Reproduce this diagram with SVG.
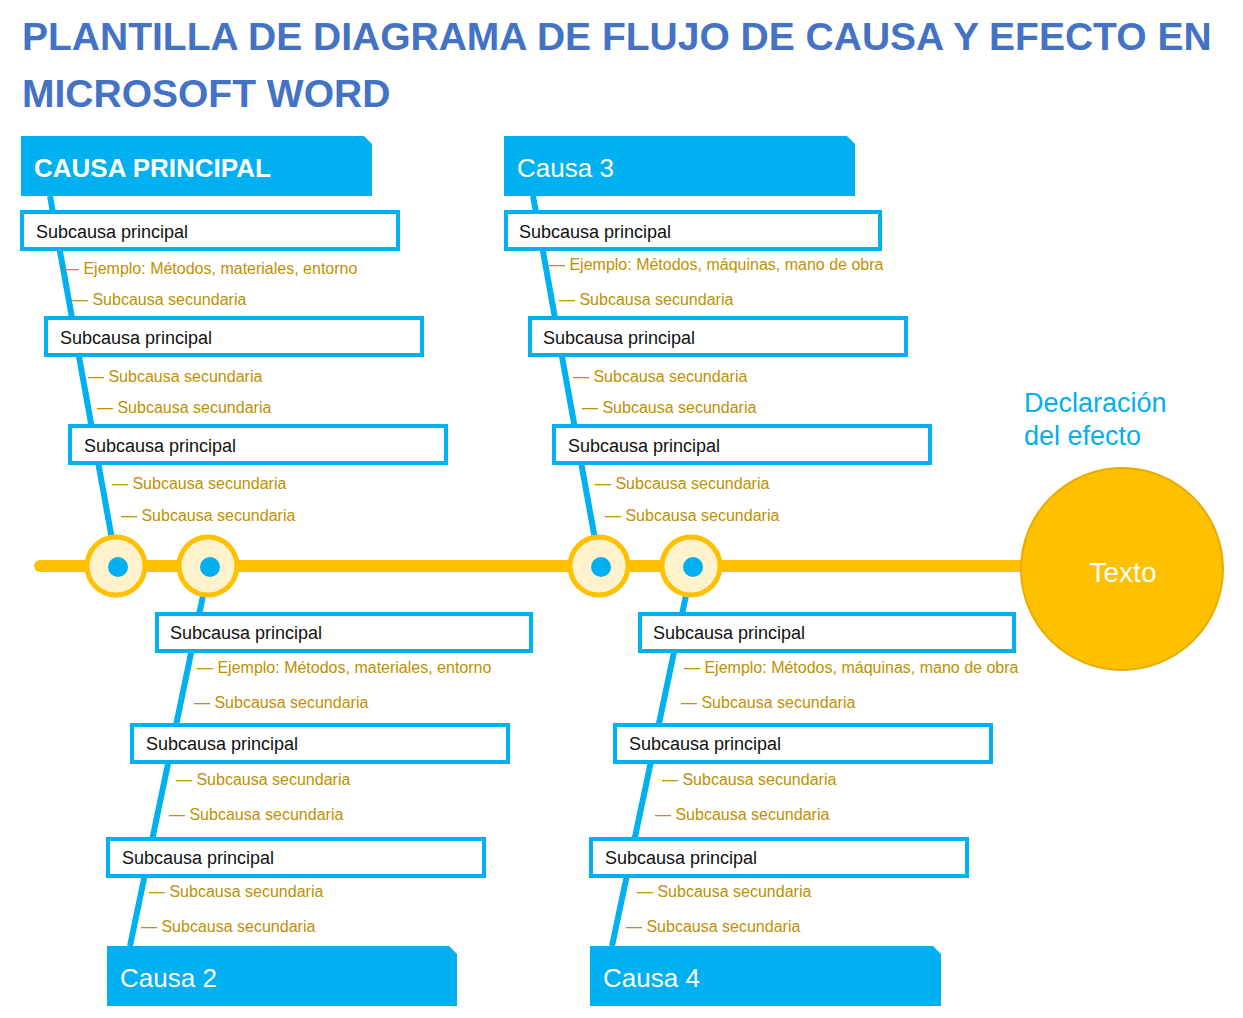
<svg xmlns="http://www.w3.org/2000/svg" width="1243" height="1018" viewBox="0 0 1243 1018">
<style>
.title{font:bold 39px "Liberation Sans",Arial,sans-serif;fill:#4472C4}
.hdr{fill:#00B0F0}
.ht{font:26px "Liberation Sans",Arial,sans-serif;fill:#fff}
.hb{font:bold 26px "Liberation Sans",Arial,sans-serif;fill:#fff}
.box{fill:#fff;stroke:#00B0F0;stroke-width:4}
.bt{font:18px "Liberation Sans",Arial,sans-serif;fill:#111}
.g{font:16px "Liberation Sans",Arial,sans-serif;fill:#BF9000}
.bone{stroke:#00B0F0;stroke-width:6;fill:none}
.ring{fill:#FFF2CC;stroke:#FFC000;stroke-width:5}
.dot{fill:#00B0F0}
</style>
<rect width="1243" height="1018" fill="#fff"/>
<text class="title" x="22" y="50">PLANTILLA DE DIAGRAMA DE FLUJO DE CAUSA Y EFECTO EN</text>
<text class="title" x="22" y="107">MICROSOFT WORD</text>
<g id="connectors">
<line x1="40" y1="566" x2="1040" y2="566" stroke="#FFC000" stroke-width="12" stroke-linecap="round"/>
<line class="bone" x1="50" y1="196" x2="117" y2="567"/>
<line class="bone" x1="533" y1="196" x2="600" y2="567"/>
<line class="bone" x1="209" y1="567" x2="130" y2="946"/>
<line class="bone" x1="692" y1="567" x2="612" y2="946"/>
</g>
<g id="rings">
<circle class="ring" cx="116" cy="566" r="29"/><circle class="dot" cx="118" cy="567" r="10"/>
<circle class="ring" cx="208" cy="566" r="29"/><circle class="dot" cx="210" cy="567" r="10"/>
<circle class="ring" cx="599" cy="566" r="29"/><circle class="dot" cx="601" cy="567" r="10"/>
<circle class="ring" cx="691" cy="566" r="29"/><circle class="dot" cx="693" cy="567" r="10"/>
</g>
<g id="causa-principal"><path class="hdr" d="M21 136H364L372 144V196H21Z"/><text class="hb" x="34" y="177">CAUSA PRINCIPAL</text></g>
<g id="causa-3"><path class="hdr" d="M504 136H847L855 144V196H504Z"/><text class="ht" x="517" y="177">Causa 3</text></g>
<g id="causa-2"><path class="hdr" d="M107 946H449L457 954V1006H107Z"/><text class="ht" x="120" y="987">Causa 2</text></g>
<g id="causa-4"><path class="hdr" d="M590 946H933L941 954V1006H590Z"/><text class="ht" x="603" y="987">Causa 4</text></g>
<g id="sub-left-top">
<rect class="box" x="22" y="212" width="376" height="37"/><text class="bt" x="36" y="238">Subcausa principal</text>
<text class="g" x="63" y="274">— Ejemplo: Métodos, materiales, entorno</text>
<text class="g" x="72" y="305">— Subcausa secundaria</text>
<rect class="box" x="46" y="318" width="376" height="37"/><text class="bt" x="60" y="344">Subcausa principal</text>
<text class="g" x="88" y="382">— Subcausa secundaria</text>
<text class="g" x="97" y="413">— Subcausa secundaria</text>
<rect class="box" x="70" y="426" width="376" height="37"/><text class="bt" x="84" y="452">Subcausa principal</text>
<text class="g" x="112" y="489">— Subcausa secundaria</text>
<text class="g" x="121" y="521">— Subcausa secundaria</text>
</g>
<g id="sub-right-top">
<rect class="box" x="506" y="212" width="374" height="37"/><text class="bt" x="519" y="238">Subcausa principal</text>
<text class="g" x="549" y="270">— Ejemplo: Métodos, máquinas, mano de obra</text>
<text class="g" x="559" y="305">— Subcausa secundaria</text>
<rect class="box" x="530" y="318" width="376" height="37"/><text class="bt" x="543" y="344">Subcausa principal</text>
<text class="g" x="573" y="382">— Subcausa secundaria</text>
<text class="g" x="582" y="413">— Subcausa secundaria</text>
<rect class="box" x="554" y="426" width="376" height="37"/><text class="bt" x="568" y="452">Subcausa principal</text>
<text class="g" x="595" y="489">— Subcausa secundaria</text>
<text class="g" x="605" y="521">— Subcausa secundaria</text>
</g>
<g id="sub-left-bottom">
<rect class="box" x="157" y="614" width="374" height="37"/><text class="bt" x="170" y="639">Subcausa principal</text>
<text class="g" x="197" y="673">— Ejemplo: Métodos, materiales, entorno</text>
<text class="g" x="194" y="708">— Subcausa secundaria</text>
<rect class="box" x="132" y="725" width="376" height="37"/><text class="bt" x="146" y="750">Subcausa principal</text>
<text class="g" x="176" y="785">— Subcausa secundaria</text>
<text class="g" x="169" y="820">— Subcausa secundaria</text>
<rect class="box" x="108" y="839" width="376" height="37"/><text class="bt" x="122" y="864">Subcausa principal</text>
<text class="g" x="149" y="897">— Subcausa secundaria</text>
<text class="g" x="141" y="932">— Subcausa secundaria</text>
</g>
<g id="sub-right-bottom">
<rect class="box" x="640" y="614" width="374" height="37"/><text class="bt" x="653" y="639">Subcausa principal</text>
<text class="g" x="684" y="673">— Ejemplo: Métodos, máquinas, mano de obra</text>
<text class="g" x="681" y="708">— Subcausa secundaria</text>
<rect class="box" x="615" y="725" width="376" height="37"/><text class="bt" x="629" y="750">Subcausa principal</text>
<text class="g" x="662" y="785">— Subcausa secundaria</text>
<text class="g" x="655" y="820">— Subcausa secundaria</text>
<rect class="box" x="591" y="839" width="376" height="37"/><text class="bt" x="605" y="864">Subcausa principal</text>
<text class="g" x="637" y="897">— Subcausa secundaria</text>
<text class="g" x="626" y="932">— Subcausa secundaria</text>
</g>
<g id="efecto">
<text x="1024" y="412" style="font:27px 'Liberation Sans',Arial,sans-serif;fill:#00B0F0">Declaración</text>
<text x="1024" y="445" style="font:27px 'Liberation Sans',Arial,sans-serif;fill:#00B0F0">del efecto</text>
<circle cx="1122" cy="569" r="101" fill="#FFC000" stroke="#E6AC00" stroke-width="2"/>
<text x="1123" y="582" text-anchor="middle" style="font:28px 'Liberation Sans',Arial,sans-serif;fill:#fff">Texto</text>
</g>
</svg>
